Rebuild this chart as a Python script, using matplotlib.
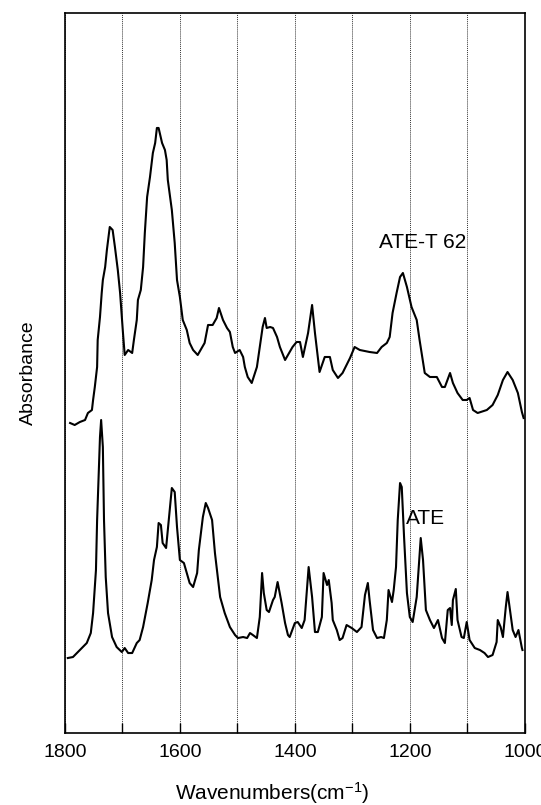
import numpy as np
import matplotlib
matplotlib.use("Agg")
import matplotlib.pyplot as plt

plt.rcParams["font.family"] = ["Liberation Sans", "DejaVu Sans"]
plt.rcParams["mathtext.fontset"] = "custom"
plt.rcParams["mathtext.rm"] = "Liberation Sans"
plt.rcParams["mathtext.it"] = "Liberation Sans:italic"

# IR spectra, absorbance in arbitrary units (stacked)
wn_ate_t62 = [1791, 1783, 1774, 1765, 1760, 1753, 1751, 1748, 1744, 1743, 1739, 1736, 1734,
              1730, 1727, 1722, 1717, 1713, 1708, 1704, 1699, 1696, 1690, 1683, 1680, 1675,
              1673, 1668, 1664, 1661, 1657, 1652, 1647, 1643, 1640, 1637, 1631, 1626, 1623,
              1621, 1614, 1609, 1605, 1600, 1595, 1588, 1583, 1577, 1569, 1562, 1557, 1551,
              1543, 1536, 1532, 1525, 1518, 1513, 1508, 1504, 1496, 1490, 1487, 1482, 1475,
              1466, 1461, 1456, 1452, 1449, 1443, 1438, 1431, 1426, 1417, 1412, 1404, 1397,
              1391, 1386, 1377, 1370, 1365, 1357, 1348, 1339, 1334, 1325, 1317, 1304, 1296,
              1287, 1270, 1257, 1249, 1240, 1235, 1230, 1223, 1217, 1212, 1205, 1197, 1188,
              1183, 1174, 1165, 1153, 1144, 1139, 1130, 1125, 1117, 1108, 1101, 1096, 1090,
              1082, 1066, 1056, 1047, 1038, 1030, 1021, 1012, 1005, 1002]
abs_ate_t62 = [310, 308, 311, 313, 320, 323, 333, 346, 366, 393, 416, 440, 453,
               466, 483, 506, 503, 486, 463, 440, 400, 378, 383, 380, 393, 413,
               433, 443, 466, 500, 536, 556, 580, 590, 605, 605, 590, 583, 573,
               553, 523, 490, 453, 436, 413, 403, 390, 383, 378, 385, 390, 408,
               408, 415, 425, 413, 405, 401, 386, 380, 383, 376, 366, 356, 350,
               366, 386, 406, 415, 405, 406, 405, 396, 386, 373, 378, 386, 391,
               391, 376, 400, 428, 400, 361, 376, 376, 363, 355, 360, 375, 386,
               383, 381, 380, 386, 390, 396, 420, 440, 456, 460, 446, 426, 413,
               393, 360, 356, 356, 346, 346, 360, 350, 340, 333, 333, 335, 323,
               320, 323, 328, 338, 353, 361, 353, 340, 321, 315]

wn_ate = [1795, 1786, 1774, 1762, 1755, 1751, 1746, 1744, 1741, 1739, 1737, 1734, 1732,
          1729, 1725, 1718, 1710, 1701, 1696, 1690, 1683, 1675, 1670, 1664, 1656, 1649,
          1645, 1640, 1637, 1633, 1630, 1624, 1621, 1617, 1614, 1609, 1605, 1600, 1593,
          1588, 1583, 1577, 1570, 1567, 1560, 1555, 1551, 1544, 1539, 1530, 1522, 1513,
          1504, 1499, 1490, 1483, 1478, 1473, 1466, 1461, 1457, 1454, 1449, 1445, 1438,
          1435, 1430, 1423, 1417, 1412, 1409, 1400, 1395, 1388, 1383, 1376, 1370, 1365,
          1360, 1353, 1350, 1344, 1341, 1336, 1334, 1327, 1322, 1317, 1310, 1301, 1292,
          1284, 1278, 1273, 1270, 1264, 1257, 1250, 1245, 1240, 1237, 1231, 1228, 1224,
          1221, 1217, 1214, 1210, 1205, 1200, 1195, 1188, 1181, 1177, 1172, 1165, 1158,
          1151, 1144, 1139, 1134, 1130, 1127, 1125, 1120, 1117, 1110, 1106, 1101, 1096,
          1087, 1078, 1070, 1064, 1056, 1049, 1047, 1042, 1038, 1033, 1030, 1024, 1021,
          1016, 1011, 1005, 1004]
abs_ate = [75, 76, 83, 90, 100, 120, 163, 213, 263, 296, 313, 286, 213,
           156, 120, 96, 86, 81, 85, 80, 80, 90, 93, 106, 130, 153,
           173, 186, 210, 208, 190, 185, 203, 226, 245, 241, 206, 173, 170,
           160, 150, 146, 160, 183, 216, 230, 225, 213, 180, 136, 120, 106,
           98, 95, 96, 95, 100, 98, 95, 116, 160, 140, 123, 121, 133,
           136, 151, 130, 110, 98, 96, 110, 111, 105, 113, 166, 136, 101,
           101, 116, 160, 148, 153, 130, 113, 103, 93, 95, 108, 105, 101,
           106, 138, 150, 133, 103, 95, 96, 95, 113, 143, 131, 143, 166,
           213, 250, 246, 196, 140, 116, 111, 136, 195, 173, 123, 113, 105,
           113, 95, 90, 123, 125, 108, 133, 144, 113, 96, 95, 111, 93,
           85, 83, 80, 76, 78, 91, 113, 106, 96, 126, 141, 116, 103,
           96, 103, 85, 83]

major_ticks = [1800, 1600, 1400, 1200, 1000]
minor_ticks = [1700, 1500, 1300, 1100]

fig = plt.figure(figsize=(5.41, 8.05), dpi=100)
ax = fig.add_axes([0.120, 0.0894, 0.850, 0.8945])

ax.plot(wn_ate_t62, abs_ate_t62, color="black", lw=1.5)
ax.plot(wn_ate, abs_ate, color="black", lw=1.5)

ax.text(1177, 490, "ATE-T 62", fontsize=15, ha="center", va="center")
ax.text(1173, 215, "ATE", fontsize=15, ha="center", va="center")

ax.set_xlim(1800, 1000)
ax.set_ylim(0, 720)
ax.set_xticks(major_ticks)
ax.set_xticks(minor_ticks, minor=True)
ax.set_yticks([])
ax.tick_params(axis="x", which="both", direction="in", length=7, width=1,
               labelsize=14, pad=8)
ax.grid(axis="x", which="both", linestyle=(0, (1, 1)), linewidth=0.7, color="#333333")

for s in ax.spines.values():
    s.set_linewidth(1.2)

ax.set_xlabel(r"Wavenumbers(cm$^{\mathregular{-1}}$)", fontsize=15, labelpad=18)
ax.xaxis.set_label_coords(0.45, -0.065)
ax.set_ylabel("Absorbance", fontsize=14, labelpad=20)

fig.savefig("out.png", dpi=100)
